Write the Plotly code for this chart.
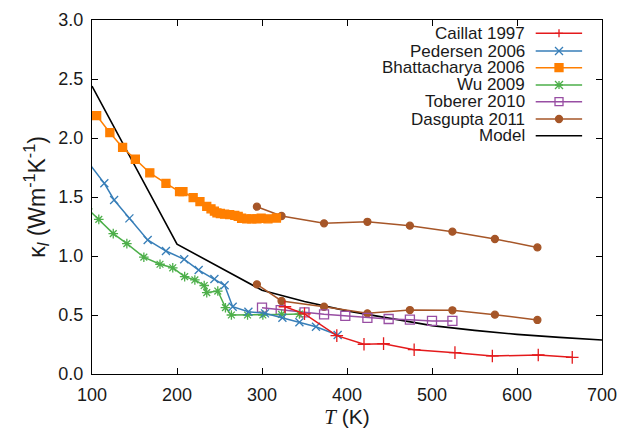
import plotly.graph_objects as go

# ---------------- data ----------------
caillat_T = [327, 350, 388, 420, 443, 479, 527, 571, 625, 665]
caillat_k = [0.57, 0.51, 0.325, 0.252, 0.257, 0.206, 0.181, 0.153, 0.161, 0.141]

pedersen_T = [95, 114.5, 126, 144, 165.5, 187, 208.5, 225.5, 244, 256, 265.5, 284, 303.5, 324, 344, 363.5, 389]
pedersen_k = [1.80, 1.616, 1.475, 1.319, 1.136, 1.042, 0.972, 0.881, 0.805, 0.752, 0.570, 0.528, 0.514, 0.477, 0.438, 0.401, 0.33]

bhatt_T = [92, 105.5, 121, 136, 151, 168, 187, 203, 207, 219, 227, 235, 240, 244, 247, 251, 256, 262, 268,
           272, 276, 282, 288, 294, 299, 307, 317]
bhatt_k = [2.27, 2.19, 2.045, 1.92, 1.82, 1.705, 1.615, 1.545, 1.545, 1.495, 1.46, 1.42, 1.40, 1.38, 1.365, 1.36,
           1.355, 1.35, 1.345, 1.335, 1.32, 1.315, 1.315, 1.315, 1.32, 1.315, 1.322]

wu_T = [95, 108, 125, 141, 161, 180, 195, 209, 221, 232, 235, 248, 257, 264, 283, 301, 323, 344]
wu_k = [1.40, 1.31, 1.19, 1.105, 0.99, 0.93, 0.90, 0.825, 0.797, 0.75, 0.69, 0.703, 0.562, 0.50, 0.50, 0.50, 0.505, 0.508]

toberer_T = [300, 322, 350, 373, 398, 424, 449, 474, 500, 524]
toberer_k = [0.562, 0.542, 0.523, 0.506, 0.493, 0.476, 0.466, 0.46, 0.45, 0.45]

dasgupta_T = [294, 323, 373, 424, 474, 524, 574, 624]
dasgupta_hi_k = [1.418, 1.339, 1.277, 1.29, 1.257, 1.206, 1.144, 1.073]
dasgupta_lo_k = [0.76, 0.619, 0.57, 0.514, 0.542, 0.54, 0.503, 0.458]

model_T = [100, 200, 300, 350, 400, 450, 500, 550, 600, 650, 700]
model_k = [2.44, 1.10, 0.71, 0.615, 0.535, 0.47, 0.41, 0.37, 0.336, 0.31, 0.288]

x_ticks = [100, 200, 300, 400, 500, 600, 700]
y_ticks = [0.0, 0.5, 1.0, 1.5, 2.0, 2.5, 3.0]

legend_names = ["Caillat 1997", "Pedersen 2006", "Bhattacharya 2006", "Wu 2009",
                "Toberer 2010", "Dasgupta 2011", "Model"]

# ---------------- styles ----------------
RED, BLUE, ORANGE, GREEN, PURPLE, BROWN = "#e41a1c", "#377eb8", "#ff7f00", "#4daf4a", "#984ea3", "#a65628"
FONT = "Liberation Sans, Arial, sans-serif"
TXT = "#1a1a1a"

fig = go.Figure()

def add(T, k, color, symbol, size, lw=1.5):
    fig.add_trace(go.Scatter(
        x=T, y=k, mode="lines+markers" if symbol else "lines",
        line=dict(color=color, width=lw),
        marker=dict(symbol=symbol or "circle", size=size, color=color,
                    line=dict(color=color, width=1.3)),
        showlegend=False))

add(model_T, model_k, "black", None, 0, lw=1.6)
add(dasgupta_T, dasgupta_hi_k, BROWN, "circle", 7)
add(dasgupta_T, dasgupta_lo_k, BROWN, "circle", 7)
add(toberer_T, toberer_k, PURPLE, "square-open", 9)
add(wu_T, wu_k, GREEN, "asterisk-open", 8)
add(bhatt_T, bhatt_k, ORANGE, "square", 8)
add(pedersen_T, pedersen_k, BLUE, "x-thin-open", 8)
add(caillat_T, caillat_k, RED, "cross-thin-open", 9)

# ---------------- hand-made gnuplot style key ----------------
legend_styles = [(RED, "plus"), (BLUE, "x"), (ORANGE, "sq"), (GREEN, "ast"),
                 (PURPLE, "osq"), (BROWN, "dot"), ("black", None)]
row_y = [0.9624, 0.9124, 0.8653, 0.8164, 0.7692, 0.7203, 0.673]
text_x, line_x0, line_x1, mark_x = 0.852, 0.870, 0.961, 0.9157

shapes = []
annotations = []

def pix_shape(kind, color, xa, ya, x0=0, x1=0, y0=0, y1=0, fill=None, path=None):
    d = dict(type=kind, xref="paper", yref="paper", xsizemode="pixel", ysizemode="pixel",
             xanchor=xa, yanchor=ya, line=dict(color=color, width=1.3))
    if path:
        d["path"] = path
    else:
        d.update(x0=x0, x1=x1, y0=y0, y1=y1)
    if fill:
        d["fillcolor"] = fill
    return d

for name, (color, sym), yy in zip(legend_names, legend_styles, row_y):
    annotations.append(dict(text=name, x=text_x, y=yy, xref="paper", yref="paper",
                            xanchor="right", yanchor="middle", showarrow=False,
                            font=dict(size=17, color=TXT, family=FONT)))
    shapes.append(dict(type="line", xref="paper", yref="paper", x0=line_x0, x1=line_x1,
                       y0=yy, y1=yy, line=dict(color=color, width=1.6)))
    s = 4
    if sym == "plus":
        shapes.append(pix_shape("path", color, mark_x, yy,
                                path=f"M{-s},0 L{s},0 M0,{-s} L0,{s}"))
    elif sym == "x":
        shapes.append(pix_shape("path", color, mark_x, yy,
                                path=f"M{-s},{-s} L{s},{s} M{-s},{s} L{s},{-s}"))
    elif sym == "ast":
        shapes.append(pix_shape("path", color, mark_x, yy,
                                path=f"M{-s},{-s} L{s},{s} M{-s},{s} L{s},{-s} M{-s},0 L{s},0 M0,{-s} L0,{s}"))
    elif sym == "sq":
        shapes.append(pix_shape("rect", color, mark_x, yy, -s, s, -s, s, fill=color))
    elif sym == "osq":
        shapes.append(pix_shape("rect", color, mark_x, yy, -s, s, -s, s))
    elif sym == "dot":
        shapes.append(pix_shape("circle", color, mark_x, yy, -3.5, 3.5, -3.5, 3.5, fill=color))

axis_common = dict(showline=True, linecolor="black", linewidth=1.3, mirror="ticks",
                   ticks="inside", ticklen=6, tickwidth=1.2, tickcolor="black",
                   showgrid=False, zeroline=False, ticklabelstandoff=4,
                   tickfont=dict(size=18, color=TXT, family=FONT))

fig.update_layout(
    width=641, height=429,
    margin=dict(l=92, r=39, t=20, b=55),
    paper_bgcolor="white", plot_bgcolor="white",
    font=dict(family=FONT, size=18, color=TXT),
    xaxis=dict(range=[100, 700], tickvals=x_ticks, ticktext=[str(v) for v in x_ticks],
               title=dict(text='<span style="font-family:Liberation Serif"><i>T</i></span> (K)',
                          font=dict(size=21, family=FONT, color=TXT), standoff=3),
               automargin=False, **axis_common),
    yaxis=dict(range=[0, 3], tickvals=y_ticks, ticktext=[f"{v:.1f}" for v in y_ticks],
               title=dict(text="κ<sub><i>l</i></sub> (Wm<sup>-1</sup>K<sup>-1</sup>)",
                          font=dict(size=23, family=FONT, color=TXT), standoff=6),
               automargin=False, **axis_common),
    shapes=shapes,
    annotations=annotations,
)

fig.write_html("out.html")
